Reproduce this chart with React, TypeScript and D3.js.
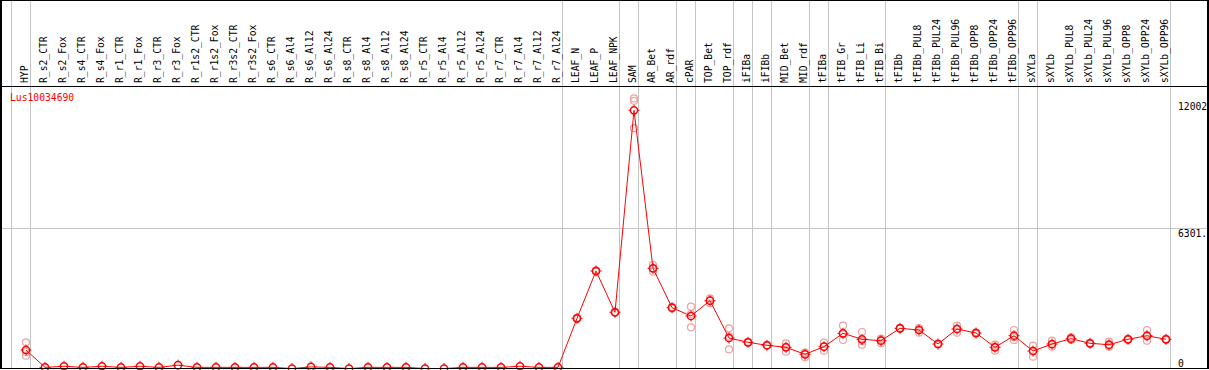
import React from "react";
import * as d3 from "d3";

const title = "Lus10034690";

const categories = [
  "HYP", "R_s2_CTR", "R_s2_Fox", "R_s4_CTR", "R_s4_Fox", "R_r1_CTR", "R_r1_Fox", "R_r3_CTR", "R_r3_Fox",
  "R_r1s2_CTR", "R_r1s2_Fox", "R_r3s2_CTR", "R_r3s2_Fox", "R_s6_CTR", "R_s6_Al4", "R_s6_Al12", "R_s6_Al24",
  "R_s8_CTR", "R_s8_Al4", "R_s8_Al12", "R_s8_Al24", "R_r5_CTR", "R_r5_Al4", "R_r5_Al12", "R_r5_Al24",
  "R_r7_CTR", "R_r7_Al4", "R_r7_Al12", "R_r7_Al24", "LEAF_N", "LEAF_P", "LEAF_NPK", "SAM", "AR_Bet", "AR_rdf",
  "cPAR", "TOP_Bet", "TOP_rdf", "iFIBa", "iFIBb", "MID_Bet", "MID_rdf", "tFIBa", "tFIB_Gr", "tFIB_Li", "tFIB_Bi",
  "tFIBb", "tFIBb_PUL8", "tFIBb_PUL24", "tFIBb_PUL96", "tFIBb_OPP8", "tFIBb_OPP24", "tFIBb_OPP96",
  "sXYLa", "sXYLb", "sXYLb_PUL8", "sXYLb_PUL24", "sXYLb_PUL96", "sXYLb_OPP8", "sXYLb_OPP24", "sXYLb_OPP96",
];

const means = [
  831, 50, 100, 50, 100, 50, 100, 50, 150, 50, 50, 50, 50, 50, 0, 70, 50, 0, 50, 50, 50, 0, 0, 50, 50, 50, 100, 50, 50,
  2256, 4382, 2526, 11604, 4503, 2733, 2359, 3047, 1370, 1177, 1043, 952, 638, 980, 1582, 1312, 1250,
  1806, 1730, 1101, 1775, 1595, 952, 1474, 786, 1101, 1340, 1132, 1070, 1312, 1474, 1312,
];

const replicates: number[][] = [
  [1177, 575, 741], [], [], [], [], [], [], [], [], [], [], [], [], [], [], [], [], [], [], [], [], [], [], [], [], [], [], [], [],
  [2230, 2280, 2256], [4382, 4350, 4410], [2526, 2500, 2550], [12140, 12030, 10800], [4651, 4350, 4503],
  [2733, 2700, 2760], [2777, 1851, 2450], [3155, 2930, 3050], [1806, 863, 1440], [1177, 1160, 1195],
  [1043, 1030, 1060], [1132, 755, 970], [503, 700, 710], [1160, 800, 980], [1924, 1281, 1540],
  [1640, 1070, 1230], [1340, 1132, 1280], [1830, 1790, 1800], [1610, 1760, 1820], [1101, 1080, 1120],
  [1924, 1610, 1790], [1595, 1560, 1630], [1070, 800, 985], [1730, 1281, 1410], [1025, 530, 800],
  [1250, 980, 1070], [1402, 1280, 1340], [1132, 1110, 1150], [1204, 980, 1030], [1312, 1290, 1330],
  [1730, 1250, 1440], [1312, 1290, 1330],
];

const separatorsAfter = [-1, 0, 28, 31, 32, 34, 35, 37, 38, 39, 41, 42, 45, 52, 53, 60];

const axisMax = 12602;
const axisLabels = ["12002", "6301.", "0"];
const axisLabelValues = [12002, 6301, 0];

const W = 1209;
const H = 370;
const FONT = "'DejaVu Sans Mono', monospace";

export default function App() {
  const x = d3.scaleLinear().domain([0, categories.length - 1]).range([26, 26 + 19 * (categories.length - 1)]);
  const y = d3.scaleLinear().domain([0, axisMax]).range([368.5, 88.1]);
  const line = d3
    .line<number>()
    .x((_, i) => x(i))
    .y((d) => y(d));

  const labelDy = [9, 9, -2];

  return (
    <svg
      width={W}
      height={H}
      style={{ position: "absolute", left: 0, top: 0, background: "#fff" }}
      shapeRendering="crispEdges"
    >
      <rect x={0} y={0} width={W} height={H} fill="#fff" />
      {/* vertical separators */}
      {separatorsAfter.map((i) => (
        <line key={"s" + i} x1={x(i) + 4.7} x2={x(i) + 4.7} y1={0} y2={369} stroke="#c4c4c4" strokeWidth={1} />
      ))}
      {/* mid gridline */}
      <line x1={1} x2={1208} y1={y(axisMax / 2)} y2={y(axisMax / 2)} stroke="#c4c4c4" strokeWidth={1} />
      {/* header labels */}
      {categories.map((c, i) => (
        <text
          key={c}
          transform={`translate(${x(i) + 1.5},83) rotate(-90)`}
          fontFamily={FONT}
          fontSize={9.7}
          fill="#000"
        >
          {c}
        </text>
      ))}
      {/* title */}
      <text x={10} y={101} fontFamily={FONT} fontSize={9.7} fill="#ff0000">
        {title}
      </text>
      {/* axis labels */}
      {axisLabels.map((l, i) => (
        <text key={l} x={1178} y={y(axisLabelValues[i]) + labelDy[i]} fontFamily={FONT} fontSize={9.7} fill="#000">
          {l}
        </text>
      ))}
      {/* replicates */}
      <g shapeRendering="auto">
        {replicates.map((reps, i) =>
          reps.map((v, j) => (
            <circle key={i + "-" + j} cx={x(i)} cy={y(v)} r={3.5} fill="none" stroke="#f0a0a0" strokeWidth={1.2} />
          ))
        )}
        <path d={line(means) || ""} fill="none" stroke="#ff0000" strokeWidth={1} />
        {means.map((v, i) => {
          const cx = x(i);
          const cy = y(v);
          return (
            <g key={"m" + i}>
              <circle cx={cx} cy={cy} r={3.6} fill="none" stroke="#ff0000" strokeWidth={1.5} />
              <line x1={cx} x2={cx} y1={cy - 5.5} y2={cy - 3.6} stroke="#ff0000" strokeWidth={1} />
              <line x1={cx} x2={cx} y1={cy + 3.6} y2={cy + 5.5} stroke="#ff0000" strokeWidth={1} />
              <line x1={cx - 5.5} x2={cx - 3.6} y1={cy} y2={cy} stroke="#ff0000" strokeWidth={1} />
              <line x1={cx + 3.6} x2={cx + 5.5} y1={cy} y2={cy} stroke="#ff0000" strokeWidth={1} />
            </g>
          );
        })}
      </g>
      {/* borders */}
      <rect x={1} y={0.5} width={1207} height={368} fill="none" stroke="#000" strokeWidth={1.5} />
      <line x1={1} x2={1208} y1={86.5} y2={86.5} stroke="#000" strokeWidth={1.5} />
    </svg>
  );
}
